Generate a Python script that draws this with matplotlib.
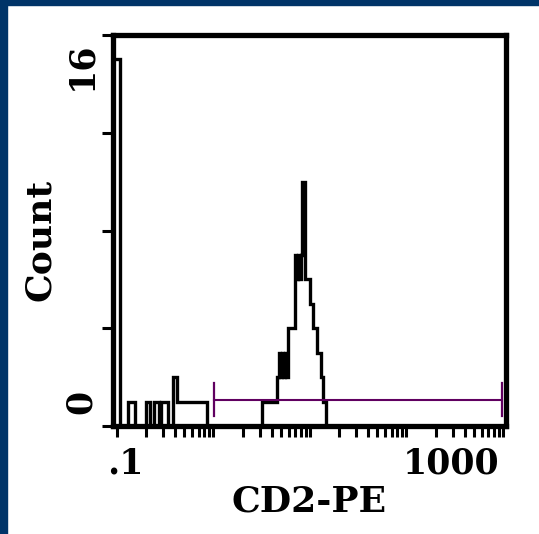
import numpy as np
import matplotlib
matplotlib.use("Agg")
import matplotlib.pyplot as plt
from matplotlib.patches import Rectangle
from matplotlib.ticker import LogLocator, NullFormatter

# bin edges in log10(CD2-PE) and counts per bin
log_edges = np.array([
    -1.041, -0.964, -0.886, -0.813, -0.699, -0.658, -0.617, -0.565, -0.544,
    -0.472, -0.420, -0.378, -0.067, 0.503, 0.658, 0.679, 0.694, 0.710, 0.725,
    0.741, 0.756, 0.772, 0.845, 0.860, 0.876, 0.891, 0.907, 0.922, 0.953,
    1.000, 1.031, 1.073, 1.114, 1.135, 1.166])
counts = np.array([
    15, 0, 1, 0, 1, 0, 1, 0, 1, 0, 2, 1, 0, 1, 2, 3, 2, 3, 2, 3, 2, 4,
    7, 6, 7, 6, 7, 10, 6, 5, 4, 3, 2, 1])

# gate marker
gate_lo, gate_hi = 1.01, 975
gate_y = 1.07
gate_cap = 0.68

y_ticks = [0, 4, 8, 12, 16]
x_major = [0.1, 1, 10, 100, 1000]

W, H = 539, 534
fig = plt.figure(figsize=(W / 100, H / 100), dpi=100)
fig.patch.set_facecolor("white")

# dark blue frame strips (left and top)
navy = "#003468"
fig.patches.append(Rectangle((0, 0), 7 / W, 1, transform=fig.transFigure,
                             color=navy, zorder=0))
fig.patches.append(Rectangle((0, 1 - 5 / H), 1, 5 / H, transform=fig.transFigure,
                             color=navy, zorder=0))

ax = fig.add_axes([113 / W, 1 - 426 / H, (506 - 113) / W, (426 - 35) / H])
ax.stairs(counts, 10 ** log_edges, baseline=0, color="black", linewidth=2.4)

ax.plot([gate_lo, gate_hi], [gate_y, gate_y], color="#600060", lw=1.5)
for gx in (gate_lo, gate_hi):
    ax.plot([gx, gx], [gate_y - gate_cap, gate_y + gate_cap], color="#600060", lw=1.6)

ax.set_xscale("log")
ax.set_xlim(10 ** -1.041, 10 ** 3.031)
ax.set_ylim(0, 16)
ax.set_xticks(x_major)
ax.xaxis.set_minor_locator(LogLocator(base=10, subs=np.arange(2, 10)))
ax.xaxis.set_minor_formatter(NullFormatter())
ax.set_yticks(y_ticks)
ax.tick_params(which="both", direction="out", length=8, width=2.2,
               labelbottom=False, labelleft=False, color="black")

for s in ax.spines.values():
    s.set_linewidth(3.8)
    s.set_color("black")

font = dict(family="DejaVu Serif", weight="bold", color="black")

def ftext(x, y, s, size=25, **kw):
    fig.text(x / W, 1 - y / H, s, fontsize=size, **font, **kw)

ftext(107, 464, ".1", ha="left", va="center")
ftext(499, 464, "1000", ha="right", va="center")
ftext(309, 502, "CD2-PE", size=26, ha="center", va="center")
ftext(40, 240, "Count", size=26, ha="center", va="center", rotation=90)
ftext(81, 66, "16", ha="center", va="center", rotation=90)
ftext(81, 402, "0", ha="center", va="center", rotation=90)

fig.savefig("out.png", dpi=100, facecolor="white")
